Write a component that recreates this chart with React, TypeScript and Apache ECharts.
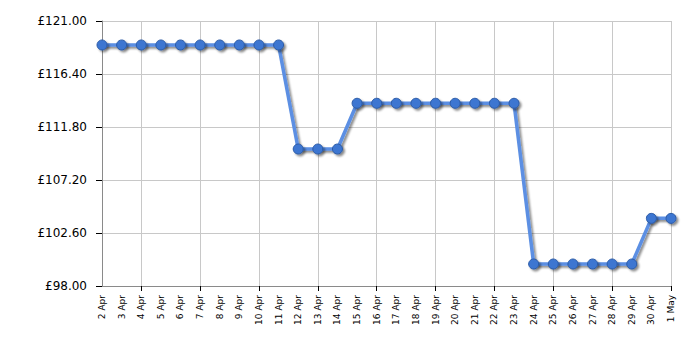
import React, { useEffect, useRef } from "react";
import * as echarts from "echarts";

const categories = [
  "2 Apr", "3 Apr", "4 Apr", "5 Apr", "6 Apr", "7 Apr", "8 Apr", "9 Apr", "10 Apr", "11 Apr",
  "12 Apr", "13 Apr", "14 Apr", "15 Apr", "16 Apr", "17 Apr", "18 Apr", "19 Apr", "20 Apr",
  "21 Apr", "22 Apr", "23 Apr", "24 Apr", "25 Apr", "26 Apr", "27 Apr", "28 Apr", "29 Apr",
  "30 Apr", "1 May",
];

const prices = [
  118.92, 118.92, 118.92, 118.92, 118.92, 118.92, 118.92, 118.92, 118.92, 118.92,
  109.89, 109.89, 109.89,
  113.86, 113.86, 113.86, 113.86, 113.86, 113.86, 113.86, 113.86, 113.86,
  99.91, 99.91, 99.91, 99.91, 99.91, 99.91,
  103.87, 103.87,
];

const yMin = 98;
const yMax = 121;
const yStep = 4.6;
const tickEvery = 3;

export default function App() {
  const ref = useRef<HTMLDivElement>(null);

  useEffect(() => {
    if (!ref.current) return;
    const chart = echarts.init(ref.current, undefined, { renderer: "svg" });
    const last = categories.length - 1;
    const onTick = (i: number) => (last - i) % tickEvery === 0;
    const font = "'DejaVu Sans', Verdana, sans-serif";

    chart.setOption({
      animation: false,
      backgroundColor: "#ffffff",
      grid: { left: 102, right: 29, top: 21, bottom: 64, containLabel: false },
      xAxis: {
        type: "category",
        data: categories,
        boundaryGap: false,
        axisLine: { show: true, lineStyle: { color: "#8a8a8a", width: 1 } },
        axisTick: {
          show: true,
          interval: (i: number) => onTick(i),
          length: 5,
          lineStyle: { color: "#000000", width: 1 },
        },
        axisLabel: {
          interval: 0,
          rotate: 90,
          margin: 9,
          fontSize: 9,
          fontFamily: font,
          color: "#000000",
        },
        splitLine: {
          show: true,
          interval: (i: number) => onTick(i),
          lineStyle: { color: "#c8c8c8", width: 1 },
        },
      },
      yAxis: {
        type: "value",
        min: 0,
        max: yMax - yMin,
        interval: yStep,
        axisLine: { show: true, lineStyle: { color: "#8a8a8a", width: 1 } },
        axisTick: { show: true, length: 6, lineStyle: { color: "#000000", width: 1 } },
        axisLabel: {
          margin: 15,
          fontSize: 12,
          fontFamily: font,
          color: "#000000",
          formatter: (v: number) => "£" + (v + yMin).toFixed(2),
        },
        splitLine: { show: true, lineStyle: { color: "#c8c8c8", width: 1 } },
      },
      series: [
        {
          type: "line",
          data: prices.map((p) => +(p - yMin).toFixed(4)),
          symbol: "circle",
          symbolSize: 10,
          lineStyle: {
            color: "#5b8fe3",
            width: 3.5,
            shadowColor: "rgba(0,0,0,0.45)",
            shadowBlur: 2,
            shadowOffsetX: 2,
            shadowOffsetY: 2,
          },
          itemStyle: {
            color: "#3c76d1",
            borderColor: "#2b5aa6",
            borderWidth: 1,
            shadowColor: "rgba(0,0,0,0.45)",
            shadowBlur: 2,
            shadowOffsetX: 2,
            shadowOffsetY: 2,
          },
          emphasis: { disabled: true },
        },
      ],
    });

    return () => chart.dispose();
  }, []);

  return <div ref={ref} style={{ width: 700, height: 350, margin: -8 }} />;
}
